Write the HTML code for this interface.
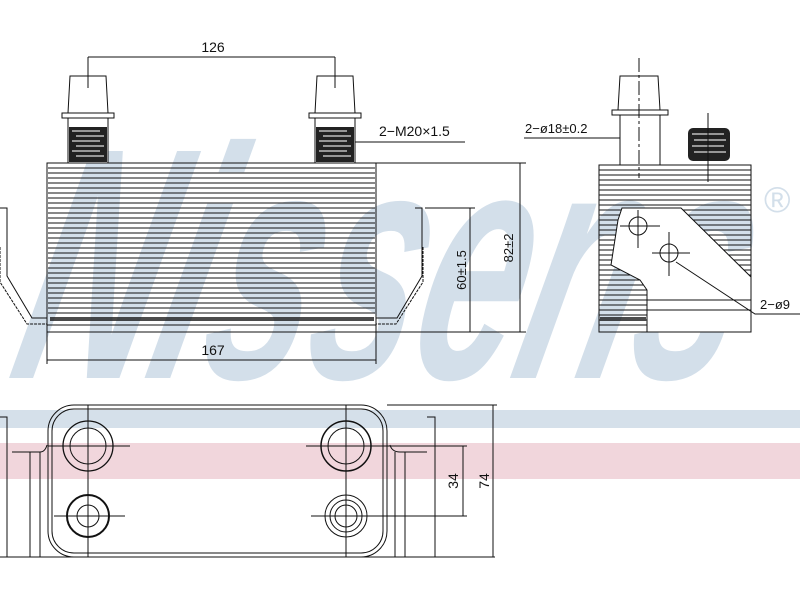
<!DOCTYPE html>
<html><head><meta charset="utf-8"><style>
html,body{margin:0;padding:0;background:#fff;}
svg{display:block;}
text{font-family:"Liberation Sans",sans-serif;}
</style></head><body>
<svg width="800" height="600" viewBox="0 0 800 600" xmlns="http://www.w3.org/2000/svg">
<!-- watermark -->
<rect x="0" y="410" width="800" height="18" fill="#d5e0ea"/>
<rect x="0" y="443" width="800" height="36" fill="#f1d6dc"/>
<g transform="skewX(-14)">
<text x="100" y="378" font-size="330" font-weight="bold" font-style="italic" fill="#d3dfea" textLength="720" lengthAdjust="spacingAndGlyphs">Nissens</text>
</g>
<text x="764" y="212" font-size="36" fill="#d3dfea">®</text>

<g fill="none" stroke="#111" stroke-width="1">
<!-- FRONT VIEW body -->
<rect x="47" y="163" width="329" height="169"/>
<path d="M48 168H375M48 173H375M48 178H375M48 183H375M48 188H375M48 193H375M48 198H375M48 203H375M48 208H375M48 213H375M48 218H375M48 223H375M48 228H375M48 233H375M48 238H375M48 243H375M48 248H375M48 253H375M48 258H375M48 263H375M48 268H375M48 273H375M48 278H375M48 283H375M48 288H375M48 293H375M48 298H375M48 303H375M48 308H375M48 313H375"/>
<path d="M50 318H374M50 320H374" stroke-width="1.5"/>
<path d="M47 325H376"/>
<!-- brackets -->
<path d="M0 208H7V276L32 318H47"/>
<path d="M0 247V282L27 324H47" stroke-dasharray="3 1"/>
<path d="M415 208H422V276L397 318H376"/>
<path d="M423 247V282L396 324H376" stroke-dasharray="3 1"/>
<!-- fittings -->
<path d="M68 113L70 76H106L108 113Z" fill="#fff"/>
<rect x="62" y="113" width="52" height="5" fill="#fff"/>
<rect x="68" y="118" width="40" height="45" fill="#fff"/>
<path d="M315 113L317 76H353L355 113Z" fill="#fff"/>
<rect x="309" y="113" width="52" height="5" fill="#fff"/>
<rect x="315" y="118" width="40" height="45" fill="#fff"/>
</g>
<g fill="#222">
<rect x="69" y="127" width="38" height="35"/>
<rect x="316" y="127" width="38" height="35"/>
</g>
<g stroke="#ddd" stroke-width="1.2">
<path d="M72 131H100M76 136H104M72 141H100M76 146H104M72 151H100M76 156H104"/>
<path d="M319 131H347M323 136H351M319 141H347M323 146H351M319 151H347M323 156H351"/>
</g>
<g fill="none" stroke="#111" stroke-width="1">
<!-- dims front -->
<path d="M88 57H335M88 57V88M335 57V88"/>
<path d="M355 142H465"/>
<path d="M376 163H526M520 163V332M376 332H526"/>
<path d="M425 208H475M470 208V332"/>
<path d="M47 332V364M376 332V364M47 360H376"/>
</g>
<text x="213" y="52" font-size="14" text-anchor="middle" fill="#111">126</text>
<text x="379" y="136" font-size="14" fill="#111">2−M20×1.5</text>
<text x="213" y="355" font-size="14" text-anchor="middle" fill="#111">167</text>
<text transform="translate(513,248) rotate(-90)" font-size="13" text-anchor="middle" fill="#111">82±2</text>
<text transform="translate(466,270) rotate(-90)" font-size="13" text-anchor="middle" fill="#111">60±1.5</text>

<!-- SIDE VIEW -->
<g fill="none" stroke="#111" stroke-width="1">
<rect x="599" y="165" width="152" height="167"/>
<path d="M599 170H751M599 175H751M599 180H751M599 185H751M599 190H751M599 195H751M599 200H751M599 205H751M599 210H751M599 215H751M599 220H751M599 225H751M599 230H751M599 235H751M599 240H751M599 245H751M599 250H751M599 255H751M599 260H751M599 265H751M599 270H751M599 275H751M599 280H751M599 285H751M599 290H751M599 295H751M599 300H751M599 305H751M599 310H751M599 315H751M599 320H751M599 325H751"/>
<path d="M622 208H681L751 277V332H647V290L640 280L611 265L618 220Z" fill="#fff"/>
<path d="M647 300H751M647 310H751"/>
<path d="M600 318H646M600 320H646" stroke-width="1.5"/>
<circle cx="638" cy="226" r="9"/>
<circle cx="669" cy="253" r="9"/>
<path d="M620 226H660M638 210V248M652 253H690M669 232V276"/>
<path d="M618 110L620 76H658L660 110Z" fill="#fff"/>
<rect x="612" y="110" width="56" height="5" fill="#fff"/>
<rect x="620" y="115" width="40" height="50" fill="#fff"/>
<path d="M639 58V178" stroke-dasharray="14 3 3 3"/>
<path d="M524 138H620"/>
<path d="M676 262L755 314H800"/>
</g>
<rect x="688" y="128" width="42" height="33" rx="5" fill="#222"/>
<path d="M692 134H724M694 140H726M692 146H724M694 152H726" stroke="#ddd" stroke-width="1.2"/>
<path d="M708 113V182" stroke="#111"/>
<text x="525" y="133" font-size="13" fill="#111">2−ø18±0.2</text>
<text x="760" y="309" font-size="13" fill="#111">2−ø9</text>

<!-- BOTTOM VIEW -->
<g fill="none" stroke="#111" stroke-width="1">
<rect x="48" y="405" width="339" height="152" rx="26"/>
<rect x="52" y="409" width="331" height="144" rx="22"/>
<path d="M90 405H346M90 557H346"/>
<path d="M0 417H7V557M12 452H40Q45 452 47 445M30 452V557M40 452V557"/>
<path d="M427 417H435V557M390 445Q392 452 400 452H427M395 452V557M405 452V557"/>
<path d="M0 557H495"/>
<circle cx="88" cy="446" r="25" stroke-width="1.3"/><circle cx="88" cy="446" r="18"/>
<circle cx="88" cy="516" r="21" stroke-width="2"/><circle cx="88" cy="516" r="11"/>
<circle cx="346" cy="446" r="25" stroke-width="1.5"/><circle cx="346" cy="446" r="18"/>
<circle cx="346" cy="516" r="21"/><circle cx="346" cy="516" r="16"/><circle cx="346" cy="516" r="11"/>
<path d="M88 405V557M346 405V557"/>
<path d="M48 446H130M306 446H467M54 516H125M311 516H467"/>
<path d="M387 405H497M493 405V557M463 446V516"/>
</g>
<text transform="translate(458,481) rotate(-90)" font-size="14" text-anchor="middle" fill="#111">34</text>
<text transform="translate(489,481) rotate(-90)" font-size="14" text-anchor="middle" fill="#111">74</text>
</svg>
</body></html>
